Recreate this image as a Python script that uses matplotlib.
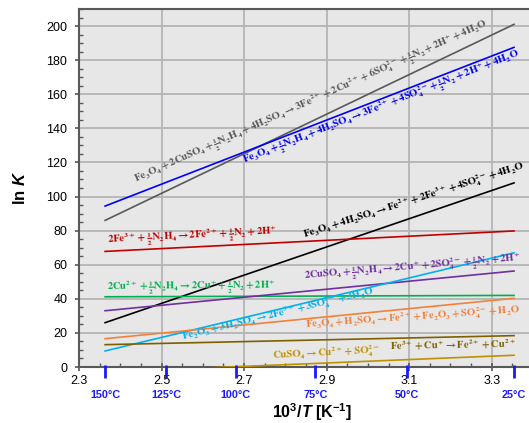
import numpy as np
import matplotlib
matplotlib.use("Agg")
import matplotlib.pyplot as plt
from matplotlib.ticker import MultipleLocator, FixedLocator
import matplotlib.transforms as mtransforms

plt.rcParams['font.family'] = ['Liberation Sans', 'DejaVu Sans']
plt.rcParams['mathtext.fontset'] = 'custom'
plt.rcParams['mathtext.rm'] = 'Liberation Sans:bold'
plt.rcParams['mathtext.bf'] = 'Liberation Sans:bold'
plt.rcParams['mathtext.it'] = 'Liberation Sans:bold:italic'

# ---- data: ln K at 150 C and 25 C (linear in 1/T) ----
x_ends = [1000 / (150 + 273.15), 1000 / (25 + 273.15)]
gray_lnK = [86, 201]
blue_lnK = [94.4, 187.5]
black_lnK = [26, 108]
red_lnK = [67.8, 79.8]
green_lnK = [41.2, 42.0]
purple_lnK = [33, 56.3]
cyan_lnK = [9.4, 67]
orange_lnK = [16.6, 40.3]
darkgold_lnK = [13.1, 18.4]
gold_lnK = [-3.0, 6.9]

temps_C = [150, 125, 100, 75, 50, 25]
temp_labels = ["150°C", "125°C", "100°C", "75°C", "50°C", "25°C"]
xtick_vals = [2.3, 2.5, 2.7, 2.9, 3.1, 3.3]
ytick_vals = [0, 20, 40, 60, 80, 100, 120, 140, 160, 180, 200]

series = [
    (gray_lnK, '#595959'),
    (blue_lnK, '#0000ff'),
    (black_lnK, '#000000'),
    (red_lnK, '#c00000'),
    (green_lnK, '#00b050'),
    (purple_lnK, '#7030a0'),
    (cyan_lnK, '#00b0f0'),
    (orange_lnK, '#f4803a'),
    (darkgold_lnK, '#7f6000'),
    (gold_lnK, '#bf9000'),
]

labels = [
    (r"$\mathbf{Fe_3O_4+2CuSO_4+\frac{1}{2}N_2H_4+4H_2SO_4\rightarrow 3Fe^{2+}+2Cu^{2+}+6SO_4^{2-}+\frac{1}{2}N_2+2H^{+}+4H_2O}$",
     '#595959', 2.440, 107.9, 24.0),
    (r"$\mathbf{Fe_3O_4+\frac{1}{2}N_2H_4+4H_2SO_4\rightarrow 3Fe^{2+}+4SO_4^{2-}+\frac{1}{2}N_2+2H^{+}+4H_2O}$",
     '#0000ff', 2.702, 119.0, 21.3),
    (r"$\mathbf{Fe_3O_4+4H_2SO_4\rightarrow Fe^{2+}+2Fe^{3+}+4SO_4^{2-}+4H_2O}$",
     '#000000', 2.846, 75.5, 17.5),
    (r"$\mathbf{2Fe^{3+}+\frac{1}{2}N_2H_4\rightarrow 2Fe^{2+}+\frac{1}{2}N_2+2H^{+}}$",
     '#c00000', 2.370, 72.1, 3.0),
    (r"$\mathbf{2Cu^{2+}+\frac{1}{2}N_2H_4\rightarrow 2Cu^{+}+\frac{1}{2}N_2+2H^{+}}$",
     '#00b050', 2.368, 45.0, 0.5),
    (r"$\mathbf{2CuSO_4+\frac{1}{2}N_2H_4\rightarrow 2Cu^{+}+2SO_4^{2-}+\frac{1}{2}N_2+2H^{+}}$",
     '#7030a0', 2.847, 51.0, 4.8),
    (r"$\mathbf{Fe_2O_3+3H_2SO_4\rightarrow 2Fe^{3+}+3SO_4^{2-}+3H_2O}$",
     '#00b0f0', 2.552, 15.8, 13.5),
    (r"$\mathbf{Fe_3O_4+H_2SO_4\rightarrow Fe^{2+}+Fe_2O_3+SO_4^{2-}+H_2O}$",
     '#f4803a', 2.850, 22.9, 4.0),
    (r"$\mathbf{Fe^{3+}+Cu^{+}\rightarrow Fe^{2+}+Cu^{2+}}$",
     '#7f6000', 3.053, 10.0, 1.0),
    (r"$\mathbf{CuSO_4\rightarrow Cu^{2+}+SO_4^{2-}}$",
     '#bf9000', 2.770, 4.7, 3.0),
]

W, H = 529, 423
fig = plt.figure(figsize=(W / 100, H / 100), dpi=100)
ax = fig.add_axes([79 / W, 1 - 367 / H, (533 - 79) / W, (367 - 9) / H])
ax.set_facecolor('#e7e7e7')
ax.set_xlim(2.3, 3.4)
ax.set_ylim(0, 210)

for vals, col in series:
    ax.plot(x_ends, vals, color=col, lw=1.2, zorder=3)

for txt, col, lx, ly, rot in labels:
    ax.text(lx, ly, txt, color=col, fontsize=7.6, rotation=rot,
            rotation_mode='anchor', ha='left', va='baseline',
            math_fontfamily='stix', zorder=4)

ax.xaxis.set_major_locator(FixedLocator(xtick_vals))
ax.xaxis.set_minor_locator(MultipleLocator(0.05))
ax.yaxis.set_major_locator(FixedLocator(ytick_vals))
ax.yaxis.set_minor_locator(MultipleLocator(5))
ax.set_xticklabels([f"{v:.1f}" for v in xtick_vals])
ax.grid(which='major', color='#b5b5b5', lw=1.3, zorder=0)
ax.set_axisbelow(True)
ax.tick_params(which='major', direction='out', length=3, width=1.2,
               color='#595959', labelsize=9, pad=5.5)
ax.tick_params(which='minor', direction='in', length=3, width=1.0,
               color='#595959')
ax.tick_params(axis='x', which='major', direction='inout', length=6, pad=3)
for s in ['left', 'bottom', 'top']:
    ax.spines[s].set_color('#595959')
    ax.spines[s].set_linewidth(1.5)
ax.spines['right'].set_visible(False)

# temperature ticks
trans = mtransforms.blended_transform_factory(ax.transData, ax.transAxes)
temp_x = [1000 / (t + 273.15) for t in temps_C]
ax.vlines(temp_x, 0.005, -0.03, color='#1a1aff', lw=2, transform=trans,
          clip_on=False, zorder=5)
for tx, tl in zip(temp_x, temp_labels):
    ax.text(tx, -(395 - 367) / 358, tl, transform=trans, ha='center',
            va='center', color='#1a1aff', fontsize=7.8, fontweight='bold')

ax.set_xlabel(r"10$^3$/$\mathit{T}$ [K$^{-1}$]", fontsize=11.5,
              fontweight='bold')
ax.xaxis.label.set_va('center')
ax.xaxis.set_label_coords((312 - 79) / (533 - 79), -(412 - 367) / 358)
ax.set_ylabel(r"ln $\mathit{K}$", fontsize=12, fontweight='bold')
ax.yaxis.set_label_coords(-(79 - 28) / (533 - 79), 0.5)

fig.savefig("out.png", dpi=100)
